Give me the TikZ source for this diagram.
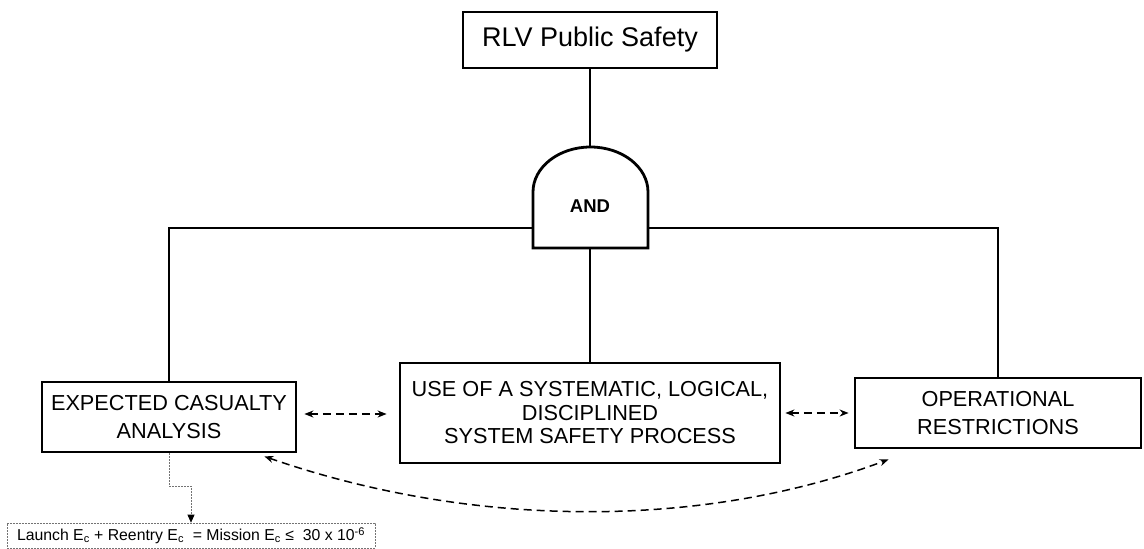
\documentclass[tikz,border=0pt]{standalone}
\usepackage{fontspec}
\setmainfont{Liberation Sans}
\usetikzlibrary{arrows.meta,positioning,calc}

\tikzset{
  blockbox/.style={draw, line width=2.8pt, align=center, inner sep=0pt},
  boxtext/.style={font=\fontsize{21.7}{28}\selectfont},
  tie/.style={line width=2.2pt},
  linkarrow/.style={line width=1.5pt, dash pattern=on 8pt off 5pt,
    {Stealth[length=9pt,width=7pt]}-{Stealth[length=9pt,width=7pt]}},
  noteline/.style={draw=black!55, line width=0.7pt, dash pattern=on 2pt off 1pt},
}

\begin{document}
\begin{tikzpicture}[x=1pt,y=-1pt]
    \useasboundingbox (0,0) rectangle (1144,549);

    % Top event
    \node[blockbox, minimum width=254pt, minimum height=56pt,
          font=\fontsize{27}{32}\selectfont] (top) at (590,40) {RLV Public Safety};

    % AND gate
    \draw[line width=2.8pt] (533,248) -- (533,192)
        arc[start angle=180, end angle=360, x radius=57.5, y radius=45]
        -- (648,248) -- cycle;
    \node[font=\fontsize{18.5}{20}\selectfont\bfseries] (gate) at (590,206) {AND};
    \coordinate (gatetop) at (590,147);
    \coordinate (gatebot) at (590,248);
    \coordinate (gateleft) at (533,228);
    \coordinate (gateright) at (648,228);

    % Contributing elements
    \node[blockbox, boxtext, minimum width=254pt, minimum height=70pt] (casualty) at (169,417)
        {EXPECTED CASUALTY\\ANALYSIS};
    \node[blockbox, minimum width=380pt, minimum height=100pt,
          font=\fontsize{21.7}{23.5}\selectfont] (process) at (590,413)
        {USE OF A SYSTEMATIC, LOGICAL,\\DISCIPLINED\\SYSTEM SAFETY PROCESS};
    \node[blockbox, boxtext, minimum width=286pt, minimum height=70pt] (ops) at (998,413)
        {OPERATIONAL\\RESTRICTIONS};

    % Gate connections
    \draw[tie] (top.south) -- (gatetop);
    \draw[tie] (gatebot) -- (process.north);
    \draw[tie] (gateleft) -| (casualty.north);
    \draw[tie] (gateright) -| (ops.north);

    % Interactions
    \draw[linkarrow] ([xshift=7pt,yshift=3pt]casualty.east) -- ([xshift=-12pt,yshift=-1pt]process.west);
    \draw[linkarrow] ([xshift=4pt]process.east) -- ([xshift=-5pt]ops.west);
    \draw[linkarrow] ([shift={(-33pt,-3pt)}]casualty.south east)
        .. controls (470,528) and (700,530) .. ([shift={(35pt,-10pt)}]ops.south west);

    % Mission requirement
    \node[noteline, minimum width=368pt, minimum height=25pt, inner sep=0pt,
          font=\fontsize{15.8}{18}\selectfont] (mission) at (191,535.5)
        {Launch E\textsubscript{c} + Reentry E\textsubscript{c}\ \ = Mission E\textsubscript{c} ≤\ \ 30 x 10\textsuperscript{-6}};
    \draw[noteline, -{Triangle[length=8pt,width=7pt,color=black]}] (casualty.south) -- ++(0,33) -| (mission.north);
\end{tikzpicture}
\end{document}
